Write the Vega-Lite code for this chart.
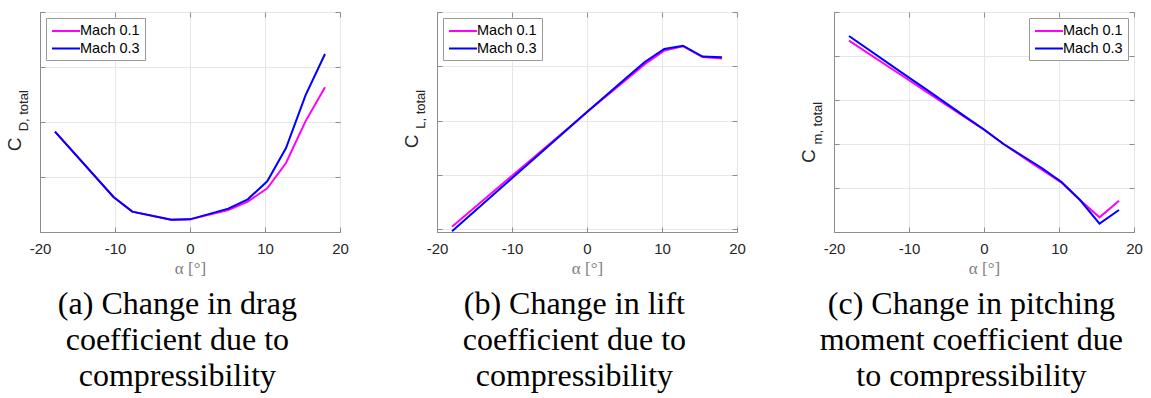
{
  "$schema": "https://vega.github.io/schema/vega-lite/v6.json",
  "padding": {"left": 5, "top": 11, "right": 0, "bottom": 0},
  "datasets": {
    "drag": [
      {"alpha": -18, "mach": "Mach 0.1", "value": 1.824},
      {"alpha": -10.2, "mach": "Mach 0.1", "value": 0.636},
      {"alpha": -7.7, "mach": "Mach 0.1", "value": 0.37},
      {"alpha": -2.5, "mach": "Mach 0.1", "value": 0.224},
      {"alpha": 0, "mach": "Mach 0.1", "value": 0.23},
      {"alpha": 5.1, "mach": "Mach 0.1", "value": 0.4},
      {"alpha": 7.7, "mach": "Mach 0.1", "value": 0.552},
      {"alpha": 10.3, "mach": "Mach 0.1", "value": 0.794},
      {"alpha": 12.8, "mach": "Mach 0.1", "value": 1.255},
      {"alpha": 15.4, "mach": "Mach 0.1", "value": 2.012},
      {"alpha": 18, "mach": "Mach 0.1", "value": 2.63},
      {"alpha": -18, "mach": "Mach 0.3", "value": 1.824},
      {"alpha": -10.2, "mach": "Mach 0.3", "value": 0.636},
      {"alpha": -7.7, "mach": "Mach 0.3", "value": 0.37},
      {"alpha": -2.5, "mach": "Mach 0.3", "value": 0.224},
      {"alpha": 0, "mach": "Mach 0.3", "value": 0.23},
      {"alpha": 5.1, "mach": "Mach 0.3", "value": 0.424},
      {"alpha": 7.7, "mach": "Mach 0.3", "value": 0.594},
      {"alpha": 10.3, "mach": "Mach 0.3", "value": 0.921},
      {"alpha": 12.8, "mach": "Mach 0.3", "value": 1.527},
      {"alpha": 15.4, "mach": "Mach 0.3", "value": 2.485},
      {"alpha": 18, "mach": "Mach 0.3", "value": 3.236}
    ],
    "lift": [
      {"alpha": -18, "mach": "Mach 0.1", "value": 0.048},
      {"alpha": -10.2, "mach": "Mach 0.1", "value": 0.96},
      {"alpha": -7.7, "mach": "Mach 0.1", "value": 1.25},
      {"alpha": -2.6, "mach": "Mach 0.1", "value": 1.85},
      {"alpha": 0, "mach": "Mach 0.1", "value": 2.16},
      {"alpha": 5.1, "mach": "Mach 0.1", "value": 2.74},
      {"alpha": 7.7, "mach": "Mach 0.1", "value": 3.04},
      {"alpha": 10.3, "mach": "Mach 0.1", "value": 3.29},
      {"alpha": 12.8, "mach": "Mach 0.1", "value": 3.37},
      {"alpha": 15.4, "mach": "Mach 0.1", "value": 3.17},
      {"alpha": 18, "mach": "Mach 0.1", "value": 3.145},
      {"alpha": -18, "mach": "Mach 0.3", "value": -0.036},
      {"alpha": -10.2, "mach": "Mach 0.3", "value": 0.916},
      {"alpha": -7.7, "mach": "Mach 0.3", "value": 1.22},
      {"alpha": -2.6, "mach": "Mach 0.3", "value": 1.84},
      {"alpha": 0, "mach": "Mach 0.3", "value": 2.16},
      {"alpha": 5.1, "mach": "Mach 0.3", "value": 2.77},
      {"alpha": 7.7, "mach": "Mach 0.3", "value": 3.08},
      {"alpha": 10.3, "mach": "Mach 0.3", "value": 3.32},
      {"alpha": 12.8, "mach": "Mach 0.3", "value": 3.38},
      {"alpha": 15.4, "mach": "Mach 0.3", "value": 3.18},
      {"alpha": 18, "mach": "Mach 0.3", "value": 3.165}
    ],
    "moment": [
      {"alpha": -18, "mach": "Mach 0.1", "value": 4.348},
      {"alpha": -10.2, "mach": "Mach 0.1", "value": 3.472},
      {"alpha": -7.7, "mach": "Mach 0.1", "value": 3.19},
      {"alpha": -2.6, "mach": "Mach 0.1", "value": 2.618},
      {"alpha": 0, "mach": "Mach 0.1", "value": 2.326},
      {"alpha": 2.6, "mach": "Mach 0.1", "value": 2.0},
      {"alpha": 5.1, "mach": "Mach 0.1", "value": 1.714},
      {"alpha": 7.7, "mach": "Mach 0.1", "value": 1.417},
      {"alpha": 10.3, "mach": "Mach 0.1", "value": 1.129},
      {"alpha": 12.8, "mach": "Mach 0.1", "value": 0.727},
      {"alpha": 15.4, "mach": "Mach 0.1", "value": 0.333},
      {"alpha": 18, "mach": "Mach 0.1", "value": 0.712},
      {"alpha": -18, "mach": "Mach 0.3", "value": 4.455},
      {"alpha": -10.2, "mach": "Mach 0.3", "value": 3.53},
      {"alpha": -7.7, "mach": "Mach 0.3", "value": 3.24},
      {"alpha": -2.6, "mach": "Mach 0.3", "value": 2.634},
      {"alpha": 0, "mach": "Mach 0.3", "value": 2.33},
      {"alpha": 2.6, "mach": "Mach 0.3", "value": 2.0},
      {"alpha": 5.1, "mach": "Mach 0.3", "value": 1.733},
      {"alpha": 7.7, "mach": "Mach 0.3", "value": 1.455},
      {"alpha": 10.3, "mach": "Mach 0.3", "value": 1.14},
      {"alpha": 12.8, "mach": "Mach 0.3", "value": 0.727},
      {"alpha": 15.4, "mach": "Mach 0.3", "value": 0.189},
      {"alpha": 18, "mach": "Mach 0.3", "value": 0.5}
    ]
  },
  "spacing": 97,
  "bounds": "flush",
  "resolve": {"scale": {"x": "independent", "y": "independent"}, "legend": {"color": "independent"}},
  "hconcat": [
    {
      "width": 300, "height": 220,
      "title": {"text": ["(a) Change in drag", "coefficient due to", "compressibility"]},
      "resolve": {"axis": {"x": "independent", "y": "independent"}},
      "layer": [
        {
          "data": {"name": "drag"},
          "mark": {"type": "line", "strokeWidth": 2},
          "encoding": {
            "x": {"field": "alpha", "type": "quantitative", "scale": {"domain": [-20, 20], "nice": false},
                  "axis": {"orient": "bottom", "values": [-20, -10, 0, 10, 20], "labelExpr": "'' + datum.value", "title": "α [°]"}},
            "y": {"field": "value", "type": "quantitative", "scale": {"domain": [0, 4], "nice": false, "zero": false},
                  "axis": {"orient": "left", "values": [0, 1, 2, 3, 4], "labels": false, "title": null}},
            "color": {"field": "mach", "type": "nominal",
                      "scale": {"domain": ["Mach 0.1", "Mach 0.3"], "range": ["#ff00ff", "#0000ff"]},
                      "legend": {"orient": "top-left", "title": null}}
          }
        },
        {
          "data": {"name": "drag"},
          "mark": {"type": "line", "opacity": 0},
          "encoding": {
            "x": {"field": "alpha", "type": "quantitative", "axis": {"orient": "top", "values": [-20, -10, 0, 10, 20], "labels": false, "grid": false, "domain": false, "title": null}},
            "y": {"field": "value", "type": "quantitative", "axis": {"orient": "right", "values": [0, 1, 2, 3, 4], "labels": false, "grid": false, "domain": false, "title": null}}
          }
        },
        {
          "data": {"values": [{}]},
          "mark": {"type": "text", "text": "C", "angle": 270, "align": "left", "baseline": "alphabetic", "font": "Liberation Sans, Arial, sans-serif", "fontSize": 19, "color": "#262626"},
          "encoding": {"x": {"datum": -22.48, "type": "quantitative", "axis": null}, "y": {"datum": 1.47, "type": "quantitative", "axis": null}}
        },
        {
          "data": {"values": [{}]},
          "mark": {"type": "text", "text": "D, total", "angle": 270, "align": "left", "baseline": "alphabetic", "font": "Liberation Sans, Arial, sans-serif", "fontSize": 13, "color": "#262626"},
          "encoding": {"x": {"datum": -21.6, "type": "quantitative", "axis": null}, "y": {"datum": 1.83, "type": "quantitative", "axis": null}}
        }
      ]
    },
    {
      "width": 300, "height": 220,
      "title": {"text": ["(b) Change in lift", "coefficient due to", "compressibility"]},
      "resolve": {"axis": {"x": "independent", "y": "independent"}},
      "layer": [
        {
          "data": {"name": "lift"},
          "mark": {"type": "line", "strokeWidth": 2},
          "encoding": {
            "x": {"field": "alpha", "type": "quantitative", "scale": {"domain": [-20, 20], "nice": false},
                  "axis": {"orient": "bottom", "values": [-20, -10, 0, 10, 20], "labelExpr": "'' + datum.value", "title": "α [°]"}},
            "y": {"field": "value", "type": "quantitative", "scale": {"domain": [-0.05, 4], "nice": false, "zero": false},
                  "axis": {"orient": "left", "values": [0, 1, 2, 3, 4], "labels": false, "title": null}},
            "color": {"field": "mach", "type": "nominal",
                      "scale": {"domain": ["Mach 0.1", "Mach 0.3"], "range": ["#ff00ff", "#0000ff"]},
                      "legend": {"orient": "top-left", "title": null}}
          }
        },
        {
          "data": {"name": "lift"},
          "mark": {"type": "line", "opacity": 0},
          "encoding": {
            "x": {"field": "alpha", "type": "quantitative", "axis": {"orient": "top", "values": [-20, -10, 0, 10, 20], "labels": false, "grid": false, "domain": false, "title": null}},
            "y": {"field": "value", "type": "quantitative", "axis": {"orient": "right", "values": [0, 1, 2, 3, 4], "labels": false, "grid": false, "domain": false, "title": null}}
          }
        },
        {
          "data": {"values": [{}]},
          "mark": {"type": "text", "text": "C", "angle": 270, "align": "left", "baseline": "alphabetic", "font": "Liberation Sans, Arial, sans-serif", "fontSize": 19, "color": "#262626"},
          "encoding": {"x": {"datum": -22.48, "type": "quantitative", "axis": null}, "y": {"datum": 1.49, "type": "quantitative", "axis": null}}
        },
        {
          "data": {"values": [{}]},
          "mark": {"type": "text", "text": "L, total", "angle": 270, "align": "left", "baseline": "alphabetic", "font": "Liberation Sans, Arial, sans-serif", "fontSize": 13, "color": "#262626"},
          "encoding": {"x": {"datum": -21.6, "type": "quantitative", "axis": null}, "y": {"datum": 1.85, "type": "quantitative", "axis": null}}
        }
      ]
    },
    {
      "width": 300, "height": 220,
      "title": {"text": ["(c) Change in pitching", "moment coefficient due", "to compressibility"]},
      "resolve": {"axis": {"x": "independent", "y": "independent"}},
      "layer": [
        {
          "data": {"name": "moment"},
          "mark": {"type": "line", "strokeWidth": 2},
          "encoding": {
            "x": {"field": "alpha", "type": "quantitative", "scale": {"domain": [-20, 20], "nice": false},
                  "axis": {"orient": "bottom", "values": [-20, -10, 0, 10, 20], "labelExpr": "'' + datum.value", "title": "α [°]"}},
            "y": {"field": "value", "type": "quantitative", "scale": {"domain": [0, 5], "nice": false, "zero": false},
                  "axis": {"orient": "left", "values": [0, 1, 2, 3, 4, 5], "labels": false, "title": null}},
            "color": {"field": "mach", "type": "nominal",
                      "scale": {"domain": ["Mach 0.1", "Mach 0.3"], "range": ["#ff00ff", "#0000ff"]},
                      "legend": {"orient": "top-right", "title": null}}
          }
        },
        {
          "data": {"name": "moment"},
          "mark": {"type": "line", "opacity": 0},
          "encoding": {
            "x": {"field": "alpha", "type": "quantitative", "axis": {"orient": "top", "values": [-20, -10, 0, 10, 20], "labels": false, "grid": false, "domain": false, "title": null}},
            "y": {"field": "value", "type": "quantitative", "axis": {"orient": "right", "values": [0, 1, 2, 3, 4, 5], "labels": false, "grid": false, "domain": false, "title": null}}
          }
        },
        {
          "data": {"values": [{}]},
          "mark": {"type": "text", "text": "C", "angle": 270, "align": "left", "baseline": "alphabetic", "font": "Liberation Sans, Arial, sans-serif", "fontSize": 19, "color": "#262626"},
          "encoding": {"x": {"datum": -22.48, "type": "quantitative", "axis": null}, "y": {"datum": 1.57, "type": "quantitative", "axis": null}}
        },
        {
          "data": {"values": [{}]},
          "mark": {"type": "text", "text": "m, total", "angle": 270, "align": "left", "baseline": "alphabetic", "font": "Liberation Sans, Arial, sans-serif", "fontSize": 13, "color": "#262626"},
          "encoding": {"x": {"datum": -21.6, "type": "quantitative", "axis": null}, "y": {"datum": 1.99, "type": "quantitative", "axis": null}}
        }
      ]
    }
  ],
  "config": {
    "view": {"stroke": "#8c8c8c", "strokeWidth": 1},
    "axis": {
      "grid": true, "gridColor": "#e6e6e6", "gridWidth": 1,
      "domainColor": "#8c8c8c", "tickColor": "#8c8c8c", "tickSize": -5,
      "labelFlush": false,
      "labelFont": "Liberation Sans, Arial, sans-serif", "labelFontSize": 15, "labelColor": "#262626", "labelPadding": 14,
      "titleFont": "Liberation Serif, Times New Roman, serif", "titleFontSize": 17, "titleFontWeight": "normal", "titleColor": "#808080", "titlePadding": 4
    },
    "legend": {
      "offset": 6, "padding": 5, "fillColor": "white", "strokeColor": "#9a9a9a",
      "symbolType": "M-1,0H3", "symbolSize": 196, "symbolStrokeWidth": 2,
      "labelFont": "Liberation Sans, Arial, sans-serif", "labelFontSize": 14.5, "labelColor": "black", "labelOffset": 13,
      "rowPadding": 2.5
    },
    "title": {
      "orient": "bottom", "anchor": "middle", "frame": "bounds",
      "font": "Liberation Serif, Times New Roman, serif", "fontSize": 32, "fontWeight": "normal", "color": "black",
      "lineHeight": 36, "offset": 13
    }
  }
}
